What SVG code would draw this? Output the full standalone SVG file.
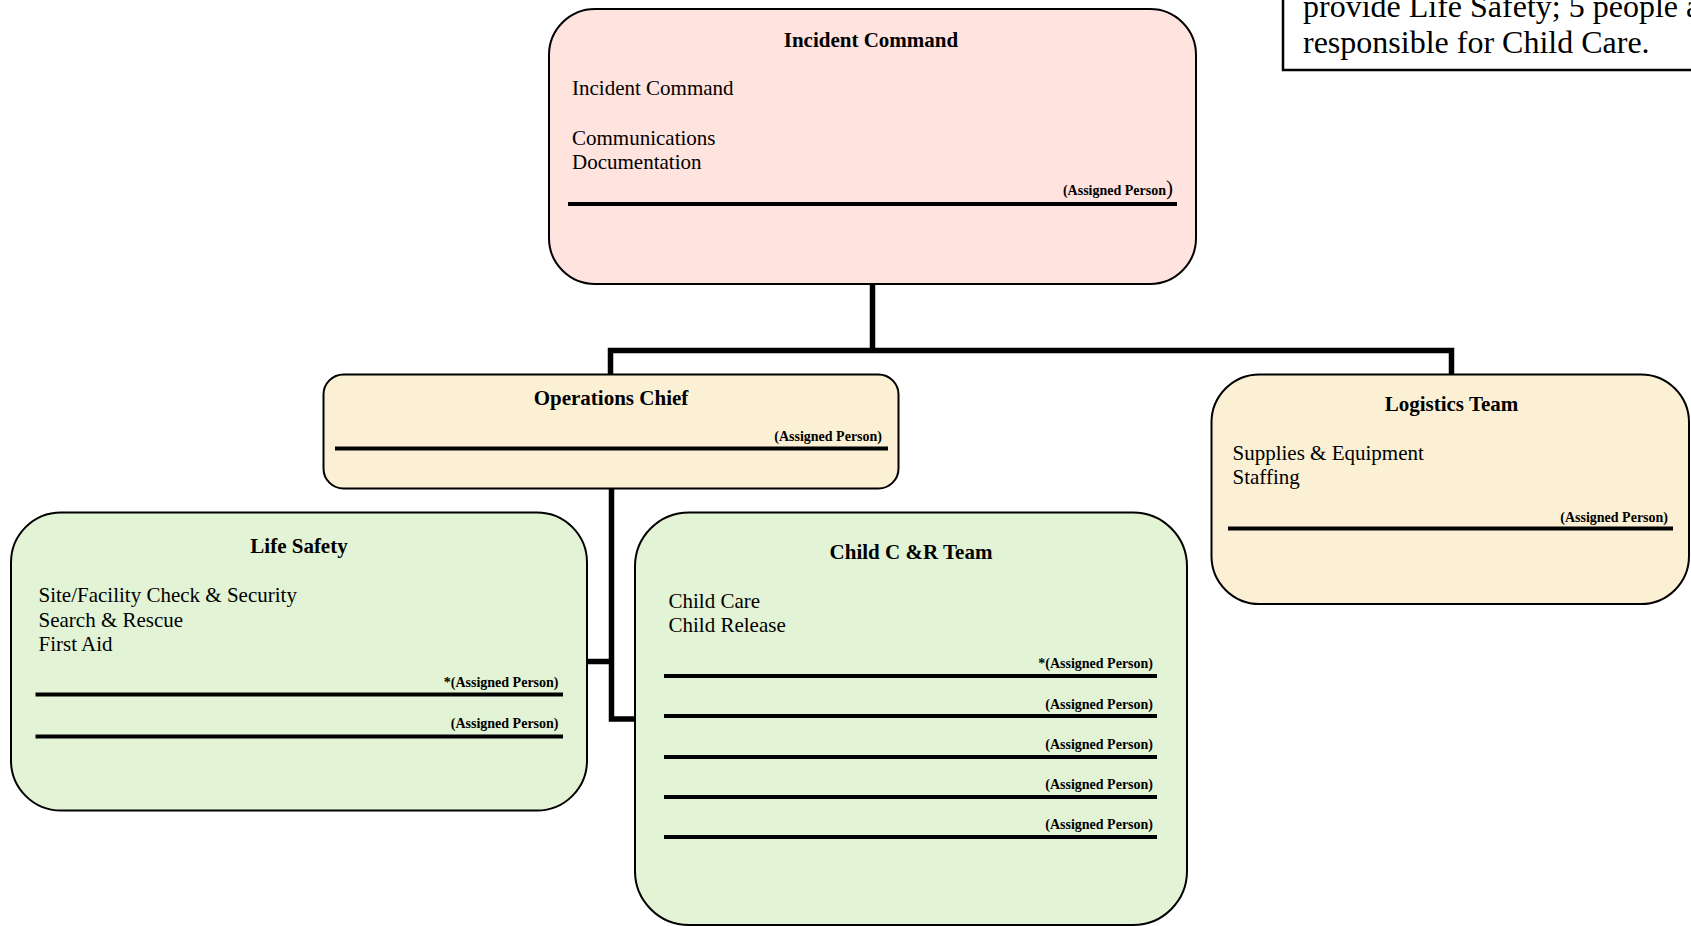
<svg xmlns="http://www.w3.org/2000/svg" width="1691" height="926" viewBox="0 0 1691 926">
<style>
text{font-family:"Liberation Serif","Times New Roman",serif;fill:#000}
.box{stroke:#000;stroke-width:2}
.pink{fill:#FEE3DF}
.beige{fill:#FBF0D4}
.green{fill:#E3F4D6}
.t{font-size:21px;font-weight:bold;text-anchor:middle}
.b{font-size:21px}
.ap{font-size:14px;font-weight:bold;text-anchor:end}
.ln{stroke:#000;stroke-width:4}
.con{stroke:#000;stroke-width:5.5;fill:none}
.note{font-size:32px}
</style>
<g id="note">
<rect x="1283" y="-60" width="440" height="130" fill="#fff" stroke="#000" stroke-width="2.5"/>
<text class="note" x="1303" y="17">provide Life Safety; 5 people a</text>
<text class="note" x="1303" y="53">responsible for Child Care.</text>
</g>
<g id="connectors">
<polyline class="con" points="872.5,284 872.5,350.5"/>
<polyline class="con" points="610.5,374 610.5,350.5 1451.5,350.5 1451.5,374"/>
<polyline class="con" points="611.5,488 611.5,719 635,719"/>
<polyline class="con" points="587,661.5 611.5,661.5"/>
</g>
<g id="incident-command">
<rect class="box pink" x="549" y="9" width="647" height="275" rx="46" ry="46"/>
<text class="t" x="871" y="47">Incident Command</text>
<text class="b" x="572" y="95">Incident Command</text>
<text class="b" x="572" y="145">Communications</text>
<text class="b" x="572" y="169">Documentation</text>
<text class="ap" x="1173" y="195">(Assigned Person<tspan style="font-size:21px;font-weight:normal">)</tspan></text>
<line class="ln" x1="568" y1="204" x2="1177" y2="204"/>
</g>
<g id="operations-chief">
<rect class="box beige" x="323.5" y="374.5" width="575" height="114" rx="20" ry="20"/>
<text class="t" x="611" y="405">Operations Chief</text>
<text class="ap" x="882" y="441">(Assigned Person)</text>
<line class="ln" x1="335" y1="448.5" x2="888" y2="448.5"/>
</g>
<g id="logistics-team">
<rect class="box beige" x="1211.5" y="374.5" width="477.5" height="229.5" rx="48" ry="48"/>
<text class="t" x="1451.5" y="411">Logistics Team</text>
<text class="b" x="1232.5" y="460">Supplies &amp; Equipment</text>
<text class="b" x="1232.5" y="484">Staffing</text>
<text class="ap" x="1668" y="522">(Assigned Person)</text>
<line class="ln" x1="1228" y1="528.5" x2="1673" y2="528.5"/>
</g>
<g id="life-safety">
<rect class="box green" x="11" y="512.5" width="576" height="298" rx="50" ry="50"/>
<text class="t" x="299" y="553">Life Safety</text>
<text class="b" x="38.5" y="602">Site/Facility Check &amp; Security</text>
<text class="b" x="38.5" y="627">Search &amp; Rescue</text>
<text class="b" x="38.5" y="651">First Aid</text>
<text class="ap" x="558.5" y="687">*(Assigned Person)</text>
<line class="ln" x1="35.5" y1="694.5" x2="563" y2="694.5"/>
<text class="ap" x="558.5" y="728">(Assigned Person)</text>
<line class="ln" x1="35.5" y1="736.5" x2="563" y2="736.5"/>
</g>
<g id="child-care-release">
<rect class="box green" x="635" y="512.5" width="552" height="412.5" rx="54" ry="54"/>
<text class="t" x="911" y="559">Child C &amp;R Team</text>
<text class="b" x="668.5" y="608">Child Care</text>
<text class="b" x="668.5" y="632">Child Release</text>
<text class="ap" x="1153" y="668">*(Assigned Person)</text>
<line class="ln" x1="664" y1="676" x2="1157" y2="676"/>
<text class="ap" x="1153" y="709">(Assigned Person)</text>
<line class="ln" x1="664" y1="716" x2="1157" y2="716"/>
<text class="ap" x="1153" y="749">(Assigned Person)</text>
<line class="ln" x1="664" y1="757" x2="1157" y2="757"/>
<text class="ap" x="1153" y="789">(Assigned Person)</text>
<line class="ln" x1="664" y1="797" x2="1157" y2="797"/>
<text class="ap" x="1153" y="829">(Assigned Person)</text>
<line class="ln" x1="664" y1="837" x2="1157" y2="837"/>
</g>
</svg>
